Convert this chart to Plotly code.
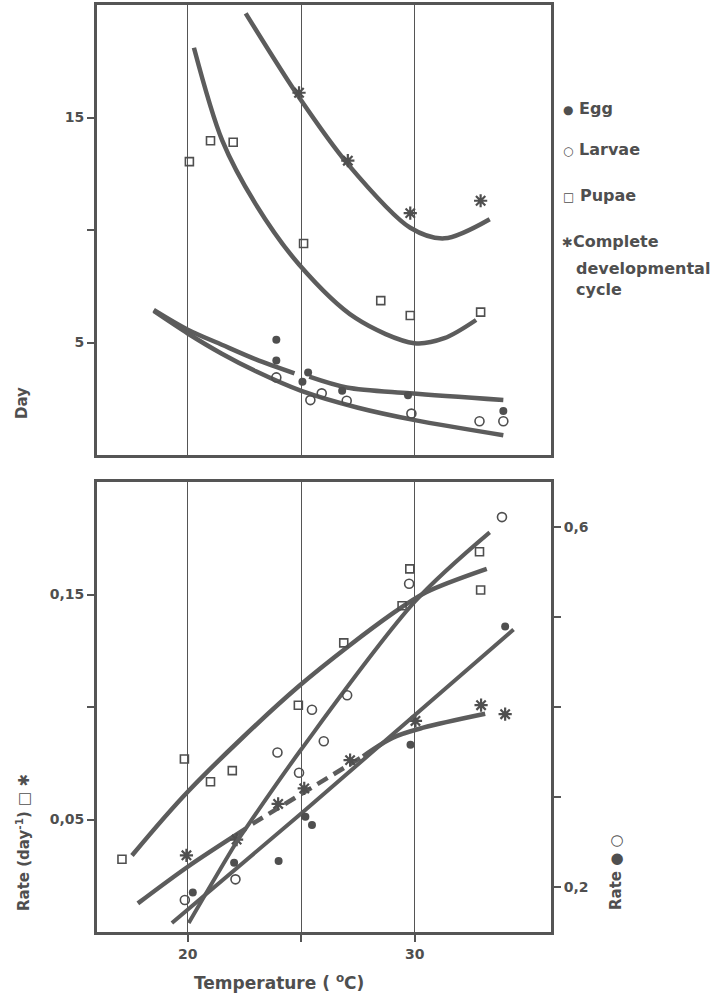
import plotly.graph_objects as go

W, H = 728, 1004

# ---------------- Top panel: development time (days) ----------------
egg_temp = [23.9, 23.9, 25.05, 25.3, 26.8, 29.7, 33.9]
egg_day = [5.12, 4.2, 3.26, 3.67, 2.86, 2.66, 1.96]
larvae_temp = [23.9, 25.4, 25.9, 27.0, 29.85, 32.85, 33.9]
larvae_day = [3.45, 2.44, 2.74, 2.41, 1.84, 1.5, 1.5]
pupae_temp = [20.07, 21.0, 22.0, 25.1, 28.5, 29.8, 32.9]
pupae_day = [13.04, 13.97, 13.9, 9.4, 6.86, 6.2, 6.35]
cycle_temp = [24.9, 27.05, 29.8, 32.9]
cycle_day = [16.1, 13.08, 10.75, 11.3]

# fitted curves
egg_fit_temp = [18.5, 20.0, 21.5, 23.0, 24.7, None, 25.35, 27.0, 29.78, 33.9]
egg_fit_day = [6.45, 5.57, 4.9, 4.25, 3.63, None, 3.48, 3.0, 2.74, 2.44]
larvae_fit_temp = [18.5, 20.0, 21.5, 23.0, 25.0, 27.5, 30.0, 33.9]
larvae_fit_day = [6.4, 5.4, 4.5, 3.72, 2.85, 2.1, 1.55, 0.88]
pupae_fit_temp = [20.27, 21.52, 22.99, 24.9, 27.4, 29.98, 31.3, 32.7]
pupae_fit_day = [18.1, 13.97, 11.15, 8.47, 6.08, 4.97, 5.19, 6.0]
cycle_fit_temp = [22.55, 24.9, 27.05, 29.8, 31.3, 33.3]
cycle_fit_day = [19.63, 15.9, 12.93, 10.1, 9.63, 10.48]

# ---------------- Bottom panel: development rate ----------------
# left axis (day^-1): pupae and complete cycle
pupae_r_temp = [17.1, 19.85, 21.0, 21.96, 24.87, 26.87, 29.44, 29.78, 32.85, 32.9]
pupae_rate = [0.0323, 0.0769, 0.0668, 0.0717, 0.1008, 0.1285, 0.145, 0.1614, 0.169, 0.152]
cycle_r_temp = [19.94, 22.15, 23.98, 25.13, 27.15, 30.03, 32.92, 33.98]
cycle_rate = [0.0341, 0.0411, 0.0569, 0.0638, 0.0764, 0.0938, 0.1008, 0.0968]
# right axis: egg and larvae
egg_r_temp = [20.22, 22.04, 24.0, 25.18, 25.47, 29.81, 33.98]
egg_rate = [0.194, 0.227, 0.229, 0.278, 0.269, 0.358, 0.4895]
larvae_r_temp = [19.87, 22.1, 23.95, 24.9, 25.47, 25.99, 27.02, 29.75, 33.84]
larvae_rate = [0.1856, 0.2085, 0.3495, 0.327, 0.397, 0.362, 0.413, 0.537, 0.611]

pupae_rfit_temp = [17.54, 20.04, 24.9, 29.04, 30.5, 33.17]
pupae_rfit = [0.034, 0.0628, 0.1093, 0.1417, 0.151, 0.1614]
cycle_rfit_temp = [17.8, 20.0, 22.55]
cycle_rfit = [0.0127, 0.029, 0.0459]
cycle_rdash_temp = [22.85, 27.72]
cycle_rdash = [0.0481, 0.0781]
cycle_rfit2_temp = [27.72, 29.04, 30.37, 33.1]
cycle_rfit2 = [0.0781, 0.0864, 0.0908, 0.097]
egg_rfit_temp = [19.3, 25.06, 34.35]
egg_rfit = [0.16, 0.283, 0.486]
larvae_rfit_temp = [20.04, 22.15, 22.55, 25.0, 30.0, 33.3]
larvae_rfit = [0.16, 0.25, 0.265, 0.353, 0.517, 0.594]

# axis ticks
top_x_grid = [20, 25, 30]
day_ticks = [5, 15]
day_minor = [10]
temp_ticks = [20, 30]
temp_minor = [25]
left_rate_ticks = [0.05, 0.15]
left_rate_minor = [0.10]
right_rate_ticks = [0.2, 0.6]
right_rate_minor = [0.3, 0.4, 0.5]

INK = "#4f4f4f"
LINE = "#5c5c5c"
AX = "#555555"
FONT = "DejaVu Sans"

fig = go.Figure()

def curve(x, y, xa, ya, dash="solid", shape="spline", width=4.5):
    fig.add_trace(go.Scatter(x=x, y=y, xaxis=xa, yaxis=ya, mode="lines",
                             line=dict(color=LINE, width=width, shape=shape, dash=dash, smoothing=0.9),
                             connectgaps=False, hoverinfo="skip"))

def pts(x, y, xa, ya, symbol, size, lw=1.6):
    fig.add_trace(go.Scatter(x=x, y=y, xaxis=xa, yaxis=ya, mode="markers",
                             marker=dict(symbol=symbol, size=size, color=INK,
                                         line=dict(color=INK, width=lw))))

# top panel curves
curve(egg_fit_temp, egg_fit_day, "x", "y")
curve(larvae_fit_temp, larvae_fit_day, "x", "y")
curve(pupae_fit_temp, pupae_fit_day, "x", "y")
curve(cycle_fit_temp, cycle_fit_day, "x", "y")
pts(egg_temp, egg_day, "x", "y", "circle", 8, 0)
pts(larvae_temp, larvae_day, "x", "y", "circle-open", 9)
pts(pupae_temp, pupae_day, "x", "y", "square-open", 8)
pts(cycle_temp, cycle_day, "x", "y", "asterisk-open", 11, 2.2)

# bottom panel curves
curve(pupae_rfit_temp, pupae_rfit, "x2", "y2")
curve(cycle_rfit_temp, cycle_rfit, "x2", "y2")
curve(cycle_rdash_temp, cycle_rdash, "x2", "y2", dash="12px,7px", shape="linear")
curve(cycle_rfit2_temp, cycle_rfit2, "x2", "y2")
curve(egg_rfit_temp, egg_rfit, "x2", "y3", shape="linear", width=4)
curve(larvae_rfit_temp, larvae_rfit, "x2", "y3", width=4)
pts(pupae_r_temp, pupae_rate, "x2", "y2", "square-open", 8)
pts(cycle_r_temp, cycle_rate, "x2", "y2", "asterisk-open", 11, 2.2)
pts(egg_r_temp, egg_rate, "x2", "y3", "circle", 8, 0)
pts(larvae_r_temp, larvae_rate, "x2", "y3", "circle-open", 9)

def px_x(px):
    return px / W

def px_y(py):
    return 1 - py / H

xd = [px_x(97), px_x(551)]
top_d = [px_y(455), px_y(5)]
bot_d = [px_y(932), px_y(482)]
tickfont = dict(family=FONT, size=14, color=INK, weight="bold")
frame = dict(showline=True, linecolor=AX, linewidth=3, mirror=True, zeroline=False, automargin=False)
tk = dict(ticks="outside", ticklen=7, tickwidth=2, tickcolor=AX)

fig.update_layout(
    width=W, height=H, margin=dict(l=0, r=0, t=0, b=0, autoexpand=False),
    paper_bgcolor="white", plot_bgcolor="white", showlegend=False,
    xaxis=dict(domain=xd, anchor="y", range=[16, 36], tickvals=top_x_grid,
               showticklabels=False, ticks="", showgrid=True, gridcolor=AX, gridwidth=1.3, **frame),
    yaxis=dict(domain=top_d, anchor="x", range=[0, 20], tickvals=day_ticks, **tk,
               minor=dict(tickvals=day_minor, showgrid=False, **tk),
               showgrid=False, tickfont=tickfont, **frame),
    xaxis2=dict(domain=xd, anchor="y2", range=[16, 36], tickvals=temp_ticks, **tk,
                minor=dict(tickvals=temp_minor, showgrid=True, gridcolor=AX, gridwidth=1.3, **tk),
                showgrid=True, gridcolor=AX, gridwidth=1.3, tickfont=tickfont, **frame),
    yaxis2=dict(domain=bot_d, anchor="x2", range=[0, 0.2], tickvals=left_rate_ticks,
                ticktext=[f"{v:.2f}".replace(".", ",") for v in left_rate_ticks], **tk,
                minor=dict(tickvals=left_rate_minor, showgrid=False, **tk),
                showgrid=False, tickfont=tickfont, **frame),
    yaxis3=dict(overlaying="y2", anchor="x2", side="right", range=[0.15, 0.65],
                tickvals=right_rate_ticks,
                ticktext=[f"{v:.1f}".replace(".", ",") for v in right_rate_ticks], **tk,
                minor=dict(tickvals=right_rate_minor, showgrid=False, **tk),
                showgrid=False, showline=True, linecolor=AX, linewidth=3, zeroline=False,
                automargin=False, tickfont=tickfont),
)

def ann(text, px, py, size=15, angle=0, xanchor="center"):
    fig.add_annotation(text=text, x=px_x(px), y=px_y(py), xref="paper", yref="paper",
                       showarrow=False, textangle=angle, xanchor=xanchor, yanchor="middle",
                       font=dict(family=FONT, size=size, color=INK, weight="bold"))

# axis titles
ann("Day", 22, 403, size=15, angle=-90)
ann("Rate (day<sup>-1</sup>) □ ✱", 23, 843, size=15, angle=-90)
ann("Rate ● ○", 616, 872, size=15, angle=-90)
ann("Temperature ( <sup>o</sup>C)", 279, 982, size=17)

# legend
g = "<span style='font-size:12px'>%s</span> %s"
ann(g % ("●", "Egg"), 561, 108, size=16, xanchor="left")
ann(g % ("○", "Larvae"), 561, 150, size=16, xanchor="left")
ann(g % ("□", "Pupae"), 561, 195, size=16, xanchor="left")
ann("<span style='font-size:13px'>✱</span>Complete", 560, 241, size=16, xanchor="left")
ann("developmental", 574, 268, size=16, xanchor="left")
ann("cycle", 574, 290, size=16, xanchor="left")

# remove the browser's default 8px body margin so the figure sits at the page origin
fig.write_html("out.html", config={"displayModeBar": False},
               post_script="document.body.style.margin='0';")
